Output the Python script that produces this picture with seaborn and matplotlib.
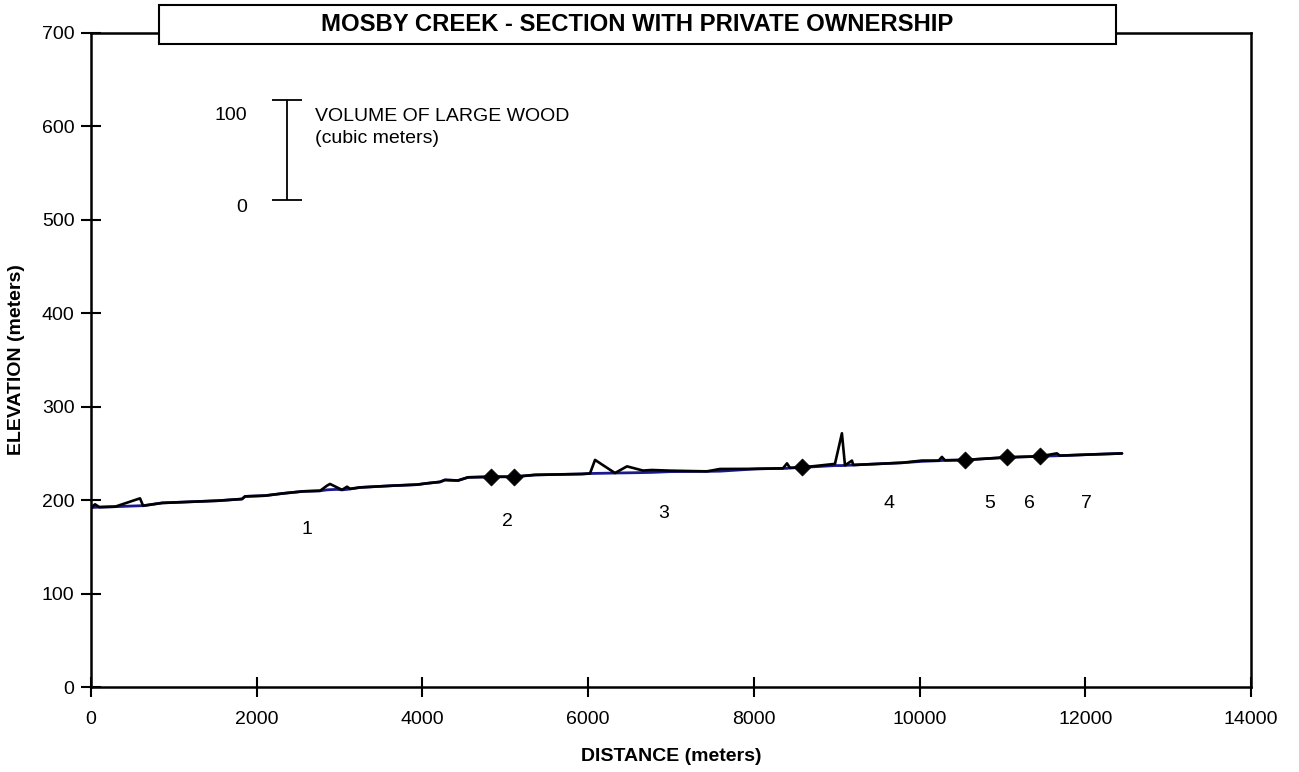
import numpy as np
import pandas as pd
import matplotlib
matplotlib.use("Agg")
import matplotlib.pyplot as plt
from matplotlib.patches import Rectangle
import seaborn as sns

# Longitudinal profile of the stream (m along channel, m elevation)
distance = [0, 48, 100, 290, 591, 628, 857, 1533, 1822, 1859, 2100, 2317, 2559,
            2764, 2848, 2884, 2969, 3029, 3090, 3126, 3246, 3645, 3934, 4055,
            4212, 4272, 4429, 4550, 4827, 5105, 5358, 5926, 6022, 6083, 6324,
            6469, 6662, 6770, 6988, 7434, 7591, 8038, 8351, 8400, 8436, 8581,
            8979, 9063, 9100, 9184, 9200, 9788, 10029, 10230, 10270, 10307,
            10548, 11055, 11453, 11658, 11694, 12020, 12443]
bed_elevation = [192.0, 192.3, 192.5, 193.0, 194.0, 194.0, 197.0, 199.4, 201.2,
                 204.0, 204.8, 207.2, 209.4, 210.0, 211.0, 211.2, 211.5, 211.0,
                 211.5, 212.0, 213.6, 215.5, 216.6, 218.0, 219.5, 221.6, 221.0,
                 224.4, 225.0, 225.0, 227.0, 228.0, 228.5, 228.6, 229.0, 229.2,
                 229.5, 229.7, 230.5, 230.8, 231.0, 233.5, 234.0, 234.0, 234.5,
                 235.0, 237.0, 237.0, 237.2, 237.5, 237.6, 240.0, 241.5, 242.2,
                 242.4, 242.6, 243.0, 245.8, 246.9, 247.5, 247.6, 248.7, 250.0]
# Large wood volume (cubic meters) recorded at each profile point
wood_volume = [0, 3.0, 0, 0, 7.4, 0, 0, 0, 0, 0, 0, 0, 0,
               0, 4.2, 5.7, 2.0, 0, 2.7, 0, 0, 0, 0, 0,
               0, 0, 0, 0, 0, 0, 0, 0, 0, 13.5, 0,
               6.5, 2.0, 2.4, 1.0, 0, 2.2, 0, 0, 5.0, 0, 0,
               1.7, 32.3, 0, 4.5, 0, 0, 0.8, 0, 3.6, 0,
               0, 0, 0, 2.4, 0, 0, 0]

# Reach boundaries along the section
break_distance = [4827, 5105, 8581, 10548, 11055, 11453]
break_elevation = [225.0, 225.0, 235.0, 243.0, 245.8, 246.9]

# Section numbers and their label positions
section_names = ["1", "2", "3", "4", "5", "6", "7"]
section_x = [2602, 5024, 6916, 9627, 10843, 11325, 12012]
section_y = [169, 177, 186, 196, 196, 196, 196]

# Elevation units per cubic meter of wood, used for the profile and the key
WOOD_SCALE = 1.07
key_x, key_base = 2361, 521

profile = pd.DataFrame({"distance": distance, "bed": bed_elevation,
                        "wood": wood_volume})
profile["surface"] = profile["bed"] + profile["wood"] * WOOD_SCALE
breaks = pd.DataFrame({"distance": break_distance, "elevation": break_elevation})

sns.set_style("white", {"xtick.bottom": True, "ytick.left": True,
                        "text.color": "black", "axes.labelcolor": "black",
                        "xtick.color": "black", "ytick.color": "black",
                        "axes.edgecolor": "black"})
plt.rcParams["font.family"] = ["Liberation Sans", "DejaVu Sans"]

fig = plt.figure(figsize=(12.99, 7.72), dpi=100)
ax = fig.add_axes([0.0701, 0.1101, 0.8929, 0.8472])

sns.lineplot(data=profile, x="distance", y="bed", ax=ax, color="#1a1a8c",
             linewidth=2.0, sort=False, zorder=2)
sns.lineplot(data=profile, x="distance", y="surface", ax=ax, color="black",
             linewidth=1.9, sort=False, zorder=3)
sns.scatterplot(data=breaks, x="distance", y="elevation", ax=ax, marker="D",
                s=75, color="black", edgecolor="black", linewidth=0.5, zorder=4)

FS = 14
for name, sx, sy in zip(section_names, section_x, section_y):
    ax.text(sx, sy, name, ha="center", va="center", fontsize=FS, color="black")

# Wood volume key
ax.errorbar([key_x], [key_base + 50 * WOOD_SCALE], yerr=[50 * WOOD_SCALE],
            color="black", linewidth=1.3, capsize=10.5, capthick=1.3)
ax.text(1883, 612, "100", ha="right", va="center", fontsize=FS, color="black")
ax.text(1883, 513.5, "0", ha="right", va="center", fontsize=FS, color="black")
ax.text(2703, 611, "VOLUME OF LARGE WOOD", ha="left", va="center",
        fontsize=FS, color="black")
ax.text(2703, 587, "(cubic meters)", ha="left", va="center",
        fontsize=FS, color="black")

ax.set_xlim(0, 14000)
ax.set_ylim(0, 700)
ax.set_xticks(np.arange(0, 14001, 2000))
ax.set_yticks(np.arange(0, 701, 100))
ax.tick_params(axis="both", direction="inout", length=14, width=1.5,
               labelsize=FS, color="black", labelcolor="black",
               bottom=True, left=True)
ax.tick_params(axis="y", pad=5)
ax.tick_params(axis="x", pad=10)
for spine in ax.spines.values():
    spine.set_linewidth(1.8)
    spine.set_color("black")
ax.set_xlabel("DISTANCE (meters)", fontsize=FS, fontweight="bold", labelpad=15)
ax.set_ylabel("ELEVATION (meters)", fontsize=FS, fontweight="bold", labelpad=12)
ax.grid(False)
ax.set_facecolor("white")

# Title in a boxed banner straddling the top frame
fig.add_artist(Rectangle((0.1224, 0.943), 0.7367, 0.0505,
                         transform=fig.transFigure, facecolor="white",
                         edgecolor="black", linewidth=1.5, zorder=5))
fig.text(0.4905, 0.968, "MOSBY CREEK - SECTION WITH PRIVATE OWNERSHIP",
         ha="center", va="center", fontsize=17.2, fontweight="bold",
         color="black", zorder=6)

fig.savefig("out.png", dpi=100, facecolor="white")
